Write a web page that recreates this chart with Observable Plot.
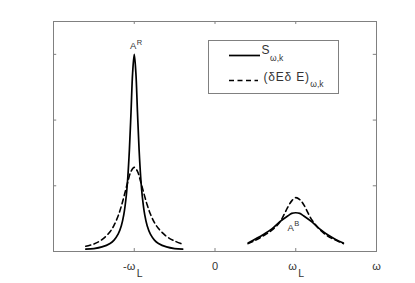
<!DOCTYPE html>
<html>
<head>
<meta charset="utf-8">
<script src="https://cdn.jsdelivr.net/npm/d3@7"></script>
<script src="https://cdn.jsdelivr.net/npm/@observablehq/plot@0.6"></script>
<style>
  html, body { margin: 0; padding: 0; background: #fff; }
</style>
</head>
<body>
<div id="chart"></div>
<script>
// ---- data ----
const xLeftS = [-1.6,-1.5,-1.4,-1.3,-1.25,-1.2,-1.16,-1.13,-1.1,-1.08,-1.06,-1.04,-1.02,-1,-0.98,-0.96,-0.94,-0.92,-0.9,-0.87,-0.84,-0.8,-0.75,-0.7,-0.6,-0.5,-0.4];
const sLeft  = [0.035,0.045,0.07,0.123,0.174,0.263,0.392,0.556,0.833,1.126,1.55,2.12,2.72,3,2.72,2.12,1.55,1.126,0.833,0.556,0.392,0.263,0.174,0.123,0.07,0.045,0.035];

const xLeftD = [-1.6,-1.5,-1.4,-1.3,-1.25,-1.2,-1.16,-1.12,-1.08,-1.04,-1,-0.96,-0.92,-0.88,-0.84,-0.8,-0.75,-0.7,-0.6,-0.5,-0.42];
const dLeft  = [0.08,0.115,0.18,0.30,0.40,0.54,0.69,0.87,1.06,1.22,1.28,1.22,1.06,0.88,0.71,0.57,0.44,0.35,0.23,0.16,0.12];

const xRightS = [0.41,0.5,0.6,0.7,0.8,0.9,0.95,1,1.05,1.1,1.2,1.3,1.4,1.5,1.59];
const sRight  = [0.13,0.19,0.26,0.34,0.45,0.54,0.58,0.59,0.58,0.54,0.45,0.34,0.25,0.18,0.13];

const xRightD = [0.41,0.5,0.6,0.7,0.8,0.85,0.9,0.95,1,1.05,1.1,1.15,1.2,1.25,1.3,1.4,1.5,1.59];
const dRight  = [0.12,0.17,0.24,0.32,0.44,0.55,0.67,0.77,0.82,0.79,0.71,0.59,0.48,0.40,0.33,0.23,0.17,0.12];

const xTickValues = [-1, 0, 1, 2];
const xTickLabels = ["-ω", "0", "ω", "ω"];
const xTickSubs   = ["L", "", "L", ""];
const yTickValues = [1, 2, 3];

const peakLabels = [
  {x: -1, y: 3,    main: "A", sup: "R"},
  {x: 1,  y: 0.59, main: "A", sup: "B"}
];

const legendMain = ["S", "(δEδ E)"];
const legendSub  = ["ω,k", "ω,k"];

// ---- build tables ----
function seg(xs, ys, series, part) {
  return xs.map((x, i) => ({x, y: ys[i], series, part}));
}
const solid = [...seg(xLeftS, sLeft, "S", "L"), ...seg(xRightS, sRight, "S", "R")];
const dashed = [...seg(xLeftD, dLeft, "D", "L"), ...seg(xRightD, dRight, "D", "R")];

const font = "Liberation Sans, Arial, Helvetica, sans-serif";
const axisColor = "#808080";
const textColor = "#333";

const svg = Plot.plot({
  width: 415,
  height: 283,
  marginLeft: 53,
  marginRight: 39,
  marginTop: 21,
  marginBottom: 32,
  x: {domain: [-2, 2], axis: null},
  y: {domain: [0, 3.5], axis: null},
  style: {fontFamily: font, background: "white", overflow: "visible"},
  marks: [
    Plot.frame({stroke: axisColor, strokeWidth: 1}),
    // inward ticks
    Plot.ruleX(xTickValues.slice(0, 3), {x: d => d, y1: 0, y2: 0.045, stroke: axisColor}),
    Plot.ruleX(xTickValues.slice(0, 3), {x: d => d, y1: 3.455, y2: 3.5, stroke: axisColor}),
    Plot.ruleY(yTickValues, {y: d => d, x1: -2, x2: -1.96, stroke: axisColor}),
    Plot.ruleY(yTickValues, {y: d => d, x1: 1.96, x2: 2, stroke: axisColor}),
    // curves
    Plot.line(solid, {x: "x", y: "y", z: "part", stroke: "black", strokeWidth: 1.7, curve: "catmull-rom"}),
    Plot.line(dashed, {x: "x", y: "y", z: "part", stroke: "black", strokeWidth: 1.6, strokeDasharray: "5,3.5", curve: "catmull-rom"}),
    // x tick labels
    Plot.text(xTickValues, {
      x: d => d, text: (d, i) => xTickLabels[i], frameAnchor: "bottom",
      dy: 18, lineAnchor: "bottom", textAnchor: "middle",
      fontSize: 11, fill: textColor,
      filter: (d, i) => xTickSubs[i] === ""
    }),
    Plot.text(xTickValues, {
      x: d => d, text: (d, i) => xTickLabels[i], frameAnchor: "bottom",
      dy: 18, lineAnchor: "bottom", textAnchor: "end", dx: 1,
      fontSize: 11, fill: textColor,
      filter: (d, i) => xTickSubs[i] !== ""
    }),
    Plot.text(xTickValues, {
      x: d => d, text: (d, i) => xTickSubs[i], frameAnchor: "bottom",
      dy: 25, lineAnchor: "bottom", textAnchor: "start", dx: 2.5,
      fontSize: 10.5, fill: textColor,
      filter: (d, i) => xTickSubs[i] !== ""
    }),
    // peak annotations
    Plot.text(peakLabels, {
      x: "x", y: "y", text: "main", textAnchor: "middle", lineAnchor: "bottom",
      fontSize: 9.5, fill: textColor, filter: d => d.sup === "R", dx: -1, dy: -5
    }),
    Plot.text(peakLabels, {
      x: "x", y: "y", text: "sup", textAnchor: "start", lineAnchor: "bottom",
      fontSize: 7.5, fill: textColor, filter: d => d.sup === "R", dx: 2.5, dy: -9.5
    }),
    Plot.text(peakLabels, {
      x: "x", y: "y", text: "main", textAnchor: "middle", lineAnchor: "bottom",
      fontSize: 9.5, fill: textColor, filter: d => d.sup === "B", dx: -5, dy: 18
    }),
    Plot.text(peakLabels, {
      x: "x", y: "y", text: "sup", textAnchor: "start", lineAnchor: "bottom",
      fontSize: 7.5, fill: textColor, filter: d => d.sup === "B", dx: -1.5, dy: 13.5
    })
  ]
});

// ---- legend box ----
const g = d3.select(svg).append("g")
  .attr("font-family", font)
  .attr("text-anchor", "start");
g.append("rect")
  .attr("x", 208.5).attr("y", 40.5).attr("width", 130).attr("height", 53)
  .attr("fill", "white").attr("stroke", axisColor).attr("stroke-width", 1);
const rows = [{y: 55.5, dash: null}, {y: 80.5, dash: "5,3.5"}];
rows.forEach((r, i) => {
  const ln = g.append("line")
    .attr("x1", 229).attr("x2", i === 0 ? 260 : 258)
    .attr("y1", r.y).attr("y2", r.y)
    .attr("stroke", "black").attr("stroke-width", i === 0 ? 1.7 : 1.6);
  if (r.dash) ln.attr("stroke-dasharray", r.dash);
  const t = g.append("text")
    .attr("x", i === 0 ? 261.5 : 263.5).attr("y", i === 0 ? 54 : 80.5)
    .attr("text-anchor", "start")
    .attr("font-size", 12).attr("fill", textColor);
  const m = t.append("tspan").text(legendMain[i]);
  if (i === 1) m.attr("letter-spacing", 0.8);
  t.append("tspan").attr("font-size", 8.5).attr("dy", 6.5).attr("dx", 0.5).text(legendSub[i]);
});

document.getElementById("chart").appendChild(svg);
</script>
</body>
</html>
